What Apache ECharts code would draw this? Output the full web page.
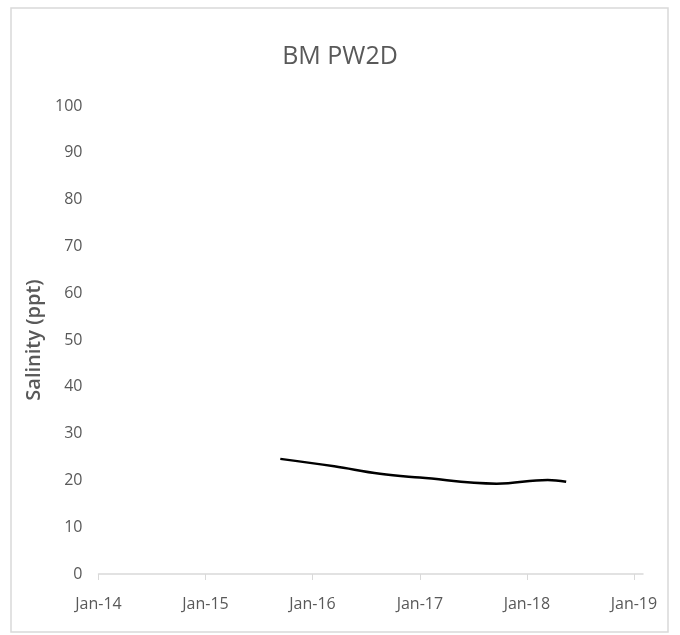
<!DOCTYPE html>
<html>
<head>
<meta charset="utf-8">
<script src="https://cdn.jsdelivr.net/npm/echarts@6/dist/echarts.min.js"></script>
<style>
  html, body { margin: 0; padding: 0; background: #fff; }
  #chart { width: 680px; height: 635px; }
</style>
</head>
<body>
<div id="chart"></div>
<script>
// salinity readings, BM PW2D
var dates = ['2015-09-13', '2016-03-15', '2016-08-18', '2017-01-01', '2017-09-20', '2018-03-13', '2018-05-15'];
var salinity = [24.6, 23.0, 21.4, 20.6, 19.3, 20.1, 19.7];
var yearTicks = ['2014-01-01', '2015-01-01', '2016-01-01', '2017-01-01', '2018-01-01', '2019-01-01'];
var yTicks = [0, 10, 20, 30, 40, 50, 60, 70, 80, 90, 100];

var months = ['Jan','Feb','Mar','Apr','May','Jun','Jul','Aug','Sep','Oct','Nov','Dec'];
function ts(s) { return new Date(s + 'T00:00:00Z').getTime(); }

var font = '"Open Sans", sans-serif';

var chart = echarts.init(document.getElementById('chart'));
chart.setOption({
    animation: false,
    graphic: [{
        type: 'rect',
        shape: { x: 11, y: 8, width: 657, height: 624 },
        style: { fill: null, stroke: '#d9d9d9', lineWidth: 1.5 },
        silent: true
    }],
    title: {
        text: 'BM PW2D',
        left: 'center',
        top: 39,
        textStyle: { fontFamily: font, fontSize: 25, fontWeight: 'normal', color: '#595959' }
    },
    grid: { left: 98.5, right: 37, top: 106, bottom: 61 },
    xAxis: {
        type: 'value',
        min: ts('2014-01-01'),
        max: ts('2019-02-01'),
        axisLine: { lineStyle: { color: '#d9d9d9', width: 1.5 } },
        axisTick: {
            show: true,
            length: 6,
            customValues: yearTicks.map(ts),
            lineStyle: { color: '#d9d9d9' }
        },
        splitLine: { show: false },
        axisLabel: {
            customValues: yearTicks.map(ts),
            margin: 22,
            fontFamily: font,
            fontSize: 16,
            color: '#595959',
            formatter: function (v) {
                var d = new Date(v);
                return months[d.getUTCMonth()] + '-' + String(d.getUTCFullYear()).slice(2);
            }
        }
    },
    yAxis: {
        type: 'value',
        min: 0,
        max: 100,
        interval: 10,
        name: 'Salinity (ppt)',
        nameLocation: 'middle',
        nameGap: 48,
        nameTextStyle: { fontFamily: font, fontSize: 20, fontWeight: 600, color: '#595959' },
        axisLine: { show: false },
        axisTick: { show: false },
        splitLine: { show: false },
        axisLabel: {
            margin: 16,
            fontFamily: font,
            fontSize: 16,
            color: '#595959',
            customValues: yTicks
        }
    },
    series: [{
        type: 'line',
        data: dates.map(function (d, i) { return [ts(d), salinity[i]]; }),
        smooth: 0.4,
        showSymbol: false,
        lineStyle: { color: '#000', width: 2.5 }
    }]
});
</script>
</body>
</html>
